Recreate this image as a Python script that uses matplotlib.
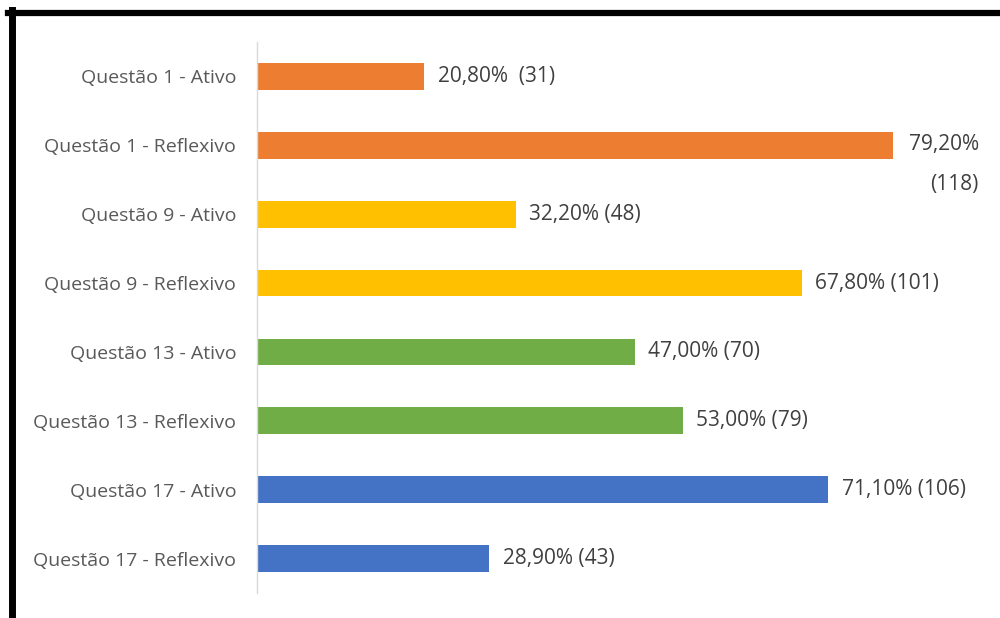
import matplotlib.pyplot as plt
from matplotlib.lines import Line2D

categories = ['Questão 1 - Ativo', 'Questão 1 - Reflexivo',
              'Questão 9 - Ativo', 'Questão 9 - Reflexivo',
              'Questão 13 - Ativo', 'Questão 13 - Reflexivo',
              'Questão 17 - Ativo', 'Questão 17 - Reflexivo']
percent = [20.8, 79.2, 32.2, 67.8, 47.0, 53.0, 71.1, 28.9]
counts = [31, 118, 48, 101, 70, 79, 106, 43]
colors = ['#ED7D31', '#ED7D31', '#FFC000', '#FFC000',
          '#70AD47', '#70AD47', '#4472C4', '#4472C4']

plt.rcParams['font.family'] = ['Open Sans', 'DejaVu Sans']
fs_tick = 14
fs_val = 15

fig = plt.figure(figsize=(10, 6.18), dpi=100)
ax = fig.add_axes([0.257, 1 - 593 / 618, 0.723, (593 - 42) / 618])

y = list(range(len(categories)))
ax.barh(y, percent, height=0.39, color=colors)
ax.set_ylim(len(categories) - 0.5, -0.5)
ax.set_xlim(0, 90)

for i, (p, c) in enumerate(zip(percent, counts)):
    txt = f'{p:.2f}%'.replace('.', ',')
    if p > 75:
        # long label wraps onto two lines
        ax.text(p + 1.9, i + 0.28, f'{txt}\n({c})',
                va='center', ha='left', multialignment='right',
                fontsize=fs_val, color='#404040', linespacing=2.2)
    else:
        sep = '  ' if i == 0 else ' '
        ax.text(p + 1.7, i, f'{txt}{sep}({c})', va='center', ha='left',
                fontsize=fs_val, color='#404040')

ax.set_yticks(y)
ax.set_yticklabels(categories, fontsize=fs_tick, color='#595959')
ax.tick_params(axis='y', length=0, pad=15)
ax.set_xticks([])
for s in ['top', 'right', 'bottom']:
    ax.spines[s].set_visible(False)
ax.spines['left'].set_color('#D9D9D9')
ax.spines['left'].set_linewidth(1)

# frame on top and left
fig.add_artist(Line2D([8 / 1000, 1], [1 - 13 / 618, 1 - 13 / 618],
                      color='black', linewidth=4.5, transform=fig.transFigure))
fig.add_artist(Line2D([11.5 / 1000, 11.5 / 1000], [1 - 10 / 618, 0],
                      color='black', linewidth=5, transform=fig.transFigure))

fig.savefig('out.png', dpi=100)
